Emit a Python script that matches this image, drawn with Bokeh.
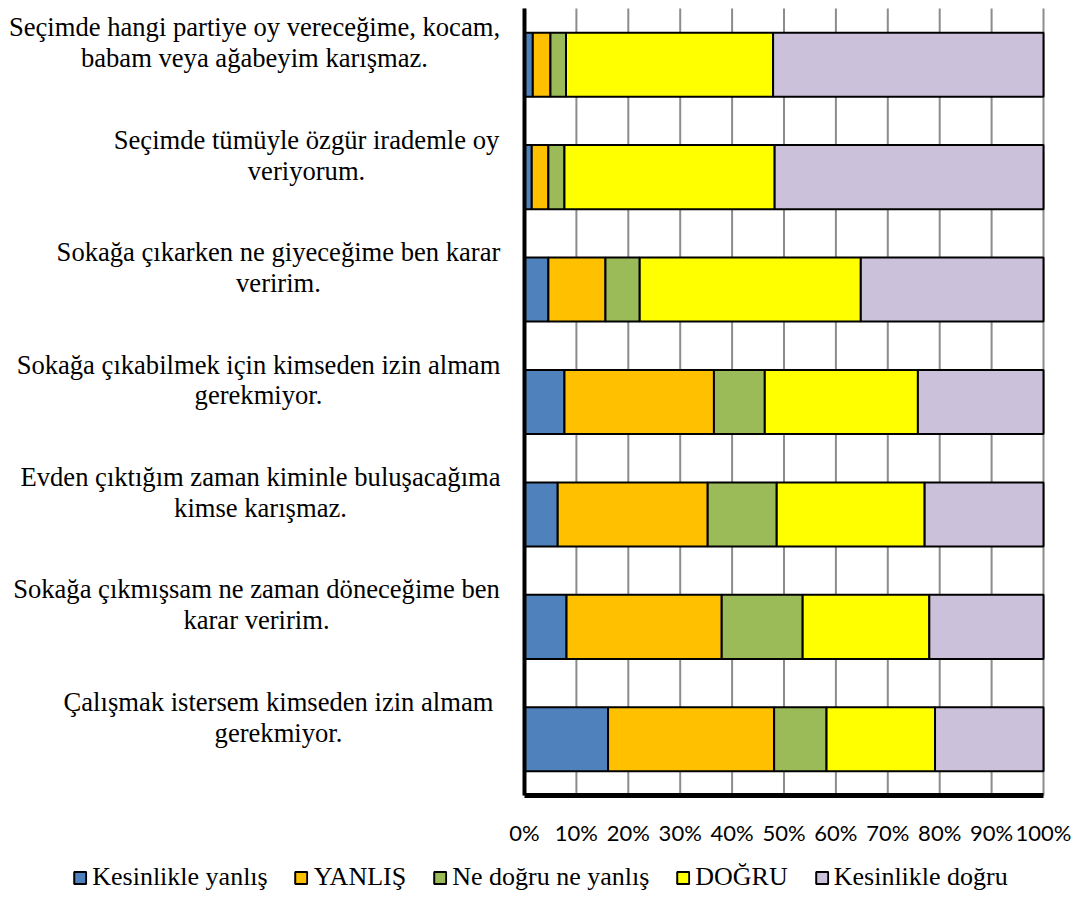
from bokeh.plotting import figure
from bokeh.models import ColumnDataSource, Legend, LegendItem, Range1d
from bokeh.core.properties import value
from bokeh.embed import file_html
from bokeh.resources import INLINE

# ---------------- data ----------------
categories = [
    "Seçimde hangi partiye oy vereceğime, kocam,\nbabam veya ağabeyim karışmaz.",
    "Seçimde tümüyle özgür irademle oy\nveriyorum.",
    "Sokağa çıkarken ne giyeceğime ben karar\nveririm.",
    "Sokağa çıkabilmek için kimseden izin almam\ngerekmiyor.",
    "Evden çıktığım zaman kiminle buluşacağıma\nkimse karışmaz.",
    "Sokağa çıkmışsam ne zaman döneceğime ben\nkarar veririm.",
    "Çalışmak istersem kimseden izin almam\ngerekmiyor.",
]
series_names = ["Kesinlikle yanlış", "YANLIŞ", "Ne doğru ne yanlış", "DOĞRU", "Kesinlikle doğru"]
kesinlikle_yanlis = [1.6, 1.4, 4.6, 7.7, 6.4, 8.1, 16.1]
yanlis = [3.4, 3.2, 11.0, 28.8, 28.9, 29.9, 32.0]
ne_dogru_ne_yanlis = [3.0, 3.1, 6.6, 9.8, 13.3, 15.6, 10.1]
dogru = [39.9, 40.5, 42.6, 29.5, 28.5, 24.4, 20.9]
kesinlikle_dogru = [52.1, 51.8, 35.2, 24.2, 22.9, 22.0, 20.9]
x_ticks = [0, 10, 20, 30, 40, 50, 60, 70, 80, 90, 100]
x_tick_labels = ["0%", "10%", "20%", "30%", "40%", "50%", "60%", "70%", "80%", "90%", "100%"]

# ---------------- styles / layout ----------------
colors = ["#4F81BD", "#FFC000", "#9BBB59", "#FFFF00", "#CCC1DA"]
W, H = 1080, 912
FRAME_TOP, FRAME_BOTTOM = 8, 795          # page y of the category area
ZERO_PX, HUNDRED_PX = 524, 1043           # page x of 0% and 100%
PX_PER_UNIT = (HUNDRED_PX - ZERO_PX) / 100.0
n = len(categories)
PX_PER_CAT = (FRAME_BOTTOM - FRAME_TOP) / n
label_center_px = [254, 306, 278, 258, 260, 256, 278]  # page x of centre of each label block
label_x = [(c - ZERO_PX) / PX_PER_UNIT for c in label_center_px]
cat_pos = [n - 0.5 - i for i in range(n)]   # top category first

source = ColumnDataSource(data=dict(
    cat=categories, pos=cat_pos, lx=label_x,
    **{series_names[0]: kesinlikle_yanlis,
       series_names[1]: yanlis,
       series_names[2]: ne_dogru_ne_yanlis,
       series_names[3]: dogru,
       series_names[4]: kesinlikle_dogru}))
tick_source = ColumnDataSource(data=dict(x=x_ticks, label=x_tick_labels,
                                         y0=[0] * len(x_ticks), y1=[n] * len(x_ticks)))

p = figure(width=W, height=H, output_backend="svg", toolbar_location=None,
           x_range=Range1d(-ZERO_PX / PX_PER_UNIT, 100 + (W - HUNDRED_PX) / PX_PER_UNIT),
           y_range=Range1d(-(H - FRAME_BOTTOM) / PX_PER_CAT, n + FRAME_TOP / PX_PER_CAT),
           x_axis_location=None, y_axis_location=None,
           min_border_left=0, min_border_right=0, min_border_top=0, min_border_bottom=0)
p.outline_line_color = None
p.background_fill_color = "white"
p.grid.visible = False

# vertical grid lines at the x ticks, spanning the category area
p.segment(x0="x", y0="y0", x1="x", y1="y1", source=tick_source,
          line_color="#8c8c8c", line_width=2)

renderers = p.hbar_stack(series_names, y="pos", height=0.57, color=colors,
                         line_color="black", line_width=2, source=source)

# axis lines (left and bottom) along the value/category extents
p.segment(x0=[0, 0], y0=[0, 0], x1=[0, 100], y1=[n, 0],
          line_color="black", line_width=[4, 5])

# x tick labels
p.text(x="x", y="y0", text="label", source=tick_source, text_align="center",
       text_baseline="middle", y_offset=37, text_font=value("Lato"),
       text_font_size="22px", text_color="black")

# category labels (centred multi-line blocks left of the axis)
p.text(x="lx", y="pos", text="cat", source=source, text_align="center",
       text_baseline="middle", y_offset=-22, text_font=value("Liberation Serif"),
       text_font_size="26.6px", text_line_height=1.03, text_color="black")

legend = Legend(items=[LegendItem(label=nm, renderers=[r]) for nm, r in zip(series_names, renderers)],
                orientation="horizontal", location="bottom_center",
                label_text_font="Liberation Serif", label_text_font_size="26px",
                label_text_color="black",
                glyph_width=15, glyph_height=15, spacing=26, label_standoff=5,
                padding=0, margin=20, border_line_color=None,
                background_fill_alpha=0)
p.add_layout(legend, "center")

open("out.html", "w").write(file_html(p, INLINE))
